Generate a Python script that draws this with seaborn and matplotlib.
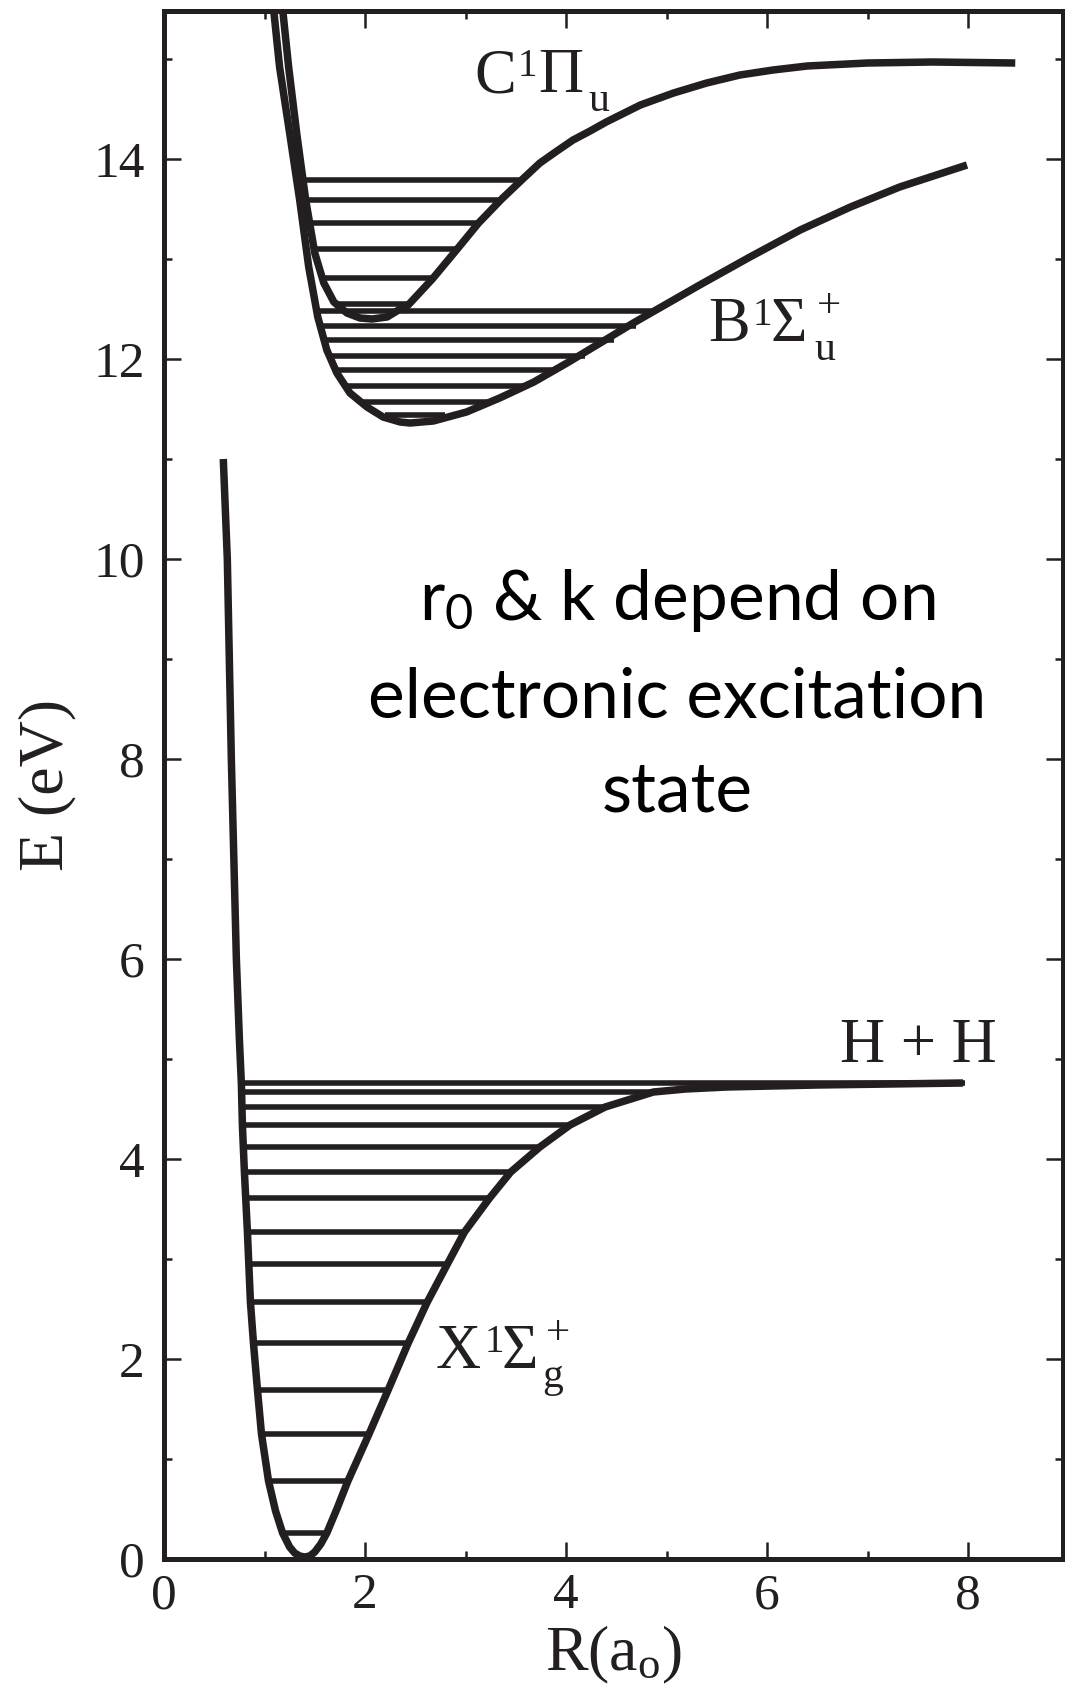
import matplotlib
matplotlib.use("Agg")
import matplotlib.pyplot as plt
import seaborn as sns

# ---- data (R in a0, E in eV) ----
# ground state X1Sigma_g+
x_R = [0.59, 0.63, 0.67, 0.72, 0.75, 0.77, 0.78, 0.80, 0.83, 0.86, 0.89, 0.93, 0.97,
       1.04, 1.11, 1.18, 1.25, 1.30, 1.35, 1.40, 1.45, 1.50, 1.56, 1.62, 1.72, 1.83,
       2.04, 2.23, 2.43, 2.62, 2.82, 2.99, 3.24, 3.45, 3.74, 4.04, 4.39, 4.87, 5.19,
       5.60, 6.50, 7.95]
x_E = [11.0, 10.0, 8.0, 6.0, 5.2, 4.75, 4.34, 3.87, 3.27, 2.57, 2.16, 1.69, 1.25,
       0.78, 0.48, 0.26, 0.12, 0.06, 0.03, 0.02, 0.03, 0.07, 0.15, 0.26, 0.50, 0.78,
       1.25, 1.69, 2.16, 2.57, 2.95, 3.27, 3.61, 3.87, 4.12, 4.34, 4.52, 4.67, 4.70,
       4.72, 4.74, 4.76]

# B1Sigma_u+
b_R = [1.08, 1.15, 1.25, 1.35, 1.44, 1.53, 1.62, 1.72, 1.85, 2.02, 2.18, 2.35, 2.45,
       2.68, 3.01, 3.34, 3.68, 4.01, 4.34, 4.67, 5.00, 5.33, 5.83, 6.33, 6.83, 7.32,
       7.99]
b_E = [15.6, 14.92, 14.26, 13.59, 12.92, 12.42, 12.09, 11.86, 11.66, 11.52, 11.42,
       11.37, 11.36, 11.38, 11.47, 11.61, 11.77, 11.96, 12.16, 12.36, 12.55, 12.74,
       13.02, 13.29, 13.52, 13.72, 13.94]

# C1Pi_u
c_R = [1.17, 1.24, 1.32, 1.41, 1.50, 1.59, 1.69, 1.82, 1.95, 2.07, 2.22, 2.35, 2.43,
       2.67, 2.91, 3.13, 3.36, 3.58, 3.74, 3.91, 4.07, 4.24, 4.40, 4.74, 5.07, 5.40,
       5.73, 6.06, 6.40, 7.00, 7.65, 8.47]
c_E = [15.6, 14.92, 14.26, 13.59, 13.06, 12.76, 12.57, 12.46, 12.41, 12.40, 12.42,
       12.50, 12.54, 12.80, 13.09, 13.36, 13.60, 13.81, 13.96, 14.08, 14.19, 14.28,
       14.37, 14.54, 14.66, 14.76, 14.84, 14.89, 14.93, 14.96, 14.97, 14.96]

# vibrational levels: energy, left end, right end
x_lev_E = [4.756, 4.672, 4.518, 4.342, 4.124, 3.868, 3.611, 3.267, 2.949, 2.567,
           2.161, 1.686, 1.254, 0.783, 0.259]
x_lev_L = [0.77, 0.78, 0.78, 0.79, 0.80, 0.81, 0.82, 0.84, 0.85, 0.87, 0.90, 0.94,
           0.98, 1.05, 1.19]
x_lev_R = [7.95, 4.85, 4.37, 4.01, 3.71, 3.42, 3.21, 2.96, 2.79, 2.60, 2.40, 2.20,
           2.01, 1.81, 1.59]

b_lev_E = [12.48, 12.33, 12.19, 12.03, 11.89, 11.73, 11.57, 11.44]
b_lev_L = [1.54, 1.57, 1.61, 1.67, 1.72, 1.80, 1.98, 2.22]
b_lev_R = [4.87, 4.68, 4.46, 4.17, 3.86, 3.60, 3.24, 2.78]

c_lev_E = [13.79, 13.59, 13.36, 13.10, 12.81, 12.55]
c_lev_L = [1.42, 1.44, 1.47, 1.52, 1.59, 1.75]
c_lev_R = [3.55, 3.34, 3.11, 2.88, 2.65, 2.41]

ink = "#231f20"

sns.set_style("ticks")
plt.rcParams["font.family"] = ["Liberation Serif", "DejaVu Serif"]
plt.rcParams["mathtext.fontset"] = "custom"
plt.rcParams["mathtext.rm"] = "Liberation Serif"
plt.rcParams["mathtext.it"] = "Liberation Serif"
plt.rcParams["mathtext.sf"] = "Lato"

fig = plt.figure(figsize=(10.65, 16.92), dpi=100)
ax = fig.add_axes([164 / 1065, 133 / 1692, 899 / 1065, 1548 / 1692])

# levels first so the curves sit on top
ext = 0.02
for E, L, R in [(x_lev_E, x_lev_L, x_lev_R), (b_lev_E, b_lev_L, b_lev_R),
                (c_lev_E, c_lev_L, c_lev_R)]:
    ax.hlines(E, [v - ext for v in L], [v + ext for v in R], color=ink,
              linewidth=4.0, zorder=2)

for R, E in [(x_R, x_E), (b_R, b_E), (c_R, c_E)]:
    sns.lineplot(x=R, y=E, sort=False, estimator=None, color=ink, ax=ax, zorder=3)
for line in ax.lines:
    line.set_linewidth(5.4)
    line.set_solid_capstyle("butt")
    line.set_solid_joinstyle("round")

ax.set_xlim(0, 8.945)
ax.set_ylim(0, 15.48)
ax.set_xticks([0, 2, 4, 6, 8])
ax.set_xticks([1, 3, 5, 7], minor=True)
ax.set_yticks(range(0, 15, 2))
ax.set_yticks(range(1, 16, 2), minor=True)

for s in ax.spines.values():
    s.set_linewidth(3.6)
    s.set_color(ink)
    s.set_zorder(4)
ax.tick_params(which="both", direction="in", top=True, right=True, color=ink,
               width=1.8, labelsize=37, labelcolor=ink)
ax.tick_params(which="major", length=12)
ax.tick_params(which="minor", length=5.5)
ax.tick_params(axis="x", pad=10)
ax.tick_params(axis="y", pad=14)

ax.set_xlabel(r"R(a$_\mathrm{o}$)", fontsize=46, color=ink)
ax.set_ylabel("E (eV)", fontsize=46, color=ink)
ax.xaxis.set_label_coords(0.5, -0.042)
ax.yaxis.set_label_coords(-0.097, 0.5)


def state_label(y, parts):
    # parts: (text, x position, baseline shift, font size)
    for txt, px, dy, size in parts:
        ax.text(px, y + dy, txt, fontsize=size, color=ink, ha="left",
                va="baseline")


state_label(14.67, [("C", 3.09, 0, 45), ("1", 3.52, 0.16, 28),
                    ("Π", 3.72, 0, 45), ("u", 4.22, -0.19, 30)])
state_label(12.18, [("B", 5.42, 0, 45), ("1", 5.86, 0.16, 28),
                    ("Σ", 6.03, 0, 45), ("u", 6.47, -0.19, 30),
                    ("+", 6.50, 0.24, 31)])
state_label(1.91, [("X", 2.70, 0, 45), ("1", 3.19, 0.16, 28),
                   ("Σ", 3.36, 0, 45), ("g", 3.76, -0.19, 30),
                   ("+", 3.80, 0.24, 31)])
ax.text(7.51, 4.97, "H + H", fontsize=45, color=ink, ha="center", va="baseline")

note = dict(fontsize=50, color="black", ha="center", va="baseline",
            family=["Lato", "DejaVu Sans"])
ax.text(5.11, 9.39, r"r$_\mathsf{0}$ & k depend on", **note)
ax.text(5.11, 8.42, "electronic excitation", **note)
ax.text(5.11, 7.48, "state", **note)

fig.savefig("out.png", dpi=100)
